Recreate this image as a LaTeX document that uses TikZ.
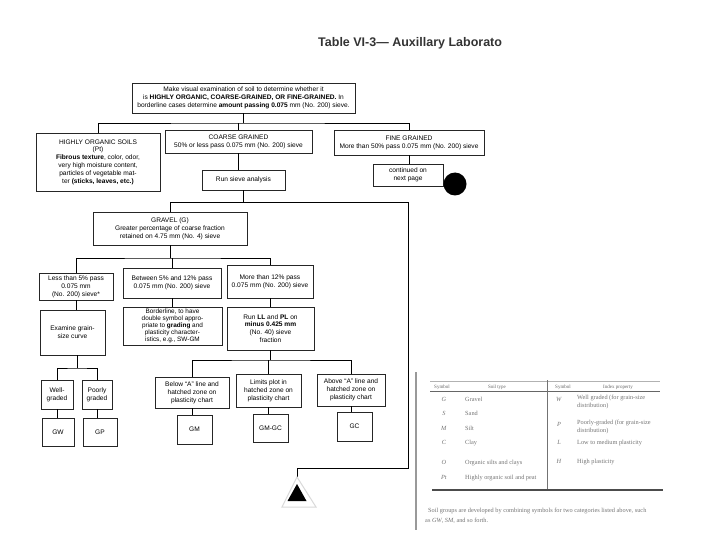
\documentclass[tikz,border=0pt]{standalone}
\usepackage{fontspec}
\setmainfont{Liberation Sans}
\newfontfamily\tabfont{Liberation Serif}
\usetikzlibrary{calc}
\tikzset{
  flowbox/.style={draw=black!85, line width=0.7pt, fill=white, align=center,
    inner sep=1pt, font=\fontsize{6.6}{7.8}\selectfont},
  link/.style={line width=0.9pt},
  tabtext/.style={text=black!55, font=\tabfont\fontsize{6.3}{7.4}\selectfont,
    anchor=base west, inner sep=0pt},
  tabhead/.style={text=black!60, font=\tabfont\fontsize{5}{6}\selectfont,
    anchor=base, inner sep=0pt},
  tabrule/.style={black!60, line width=0.6pt}
}
% box given by its corners in picture units
\newcommand{\flowbox}[7][]{%
  % #1 extra options, #2 name, #3 x-left, #4 y-top, #5 x-right, #6 y-bottom, #7 text
  \node[flowbox, minimum width={(#5-#3)*1pt}, minimum height={(#6-#4)*1pt}, #1]
    (#2) at ({(#3+#5)/2},{(#4+#6)/2}) {#7};
}

\begin{document}
\begin{tikzpicture}[x=1pt, y=-1pt]
  \useasboundingbox (0,0) rectangle (720,540);
  % title, cut at the page edge
  \begin{scope}
    \clip (0,0) rectangle (512,70);
    \node[anchor=base west, inner sep=0pt, text=black!80,
      font=\bfseries\fontsize{12.5}{14}\selectfont] (title) at (318,47)
      {Table VI-3— Auxillary Laborato};
  \end{scope}

  % first level
  \flowbox{visual}{132}{83}{355}{113}{Make visual examination of soil to determine whether it\\
    is \textbf{HIGHLY ORGANIC, COARSE-GRAINED, OR FINE-GRAINED.} In\\
    borderline cases determine \textbf{amount passing 0.075} mm (No. 200) sieve.}
  \flowbox{organic}{36}{133}{160}{191}{HIGHLY ORGANIC SOILS\\ (Pt)\\
    \textbf{Fibrous texture}, color, odor,\\ very high moisture content,\\
    particles of vegetable mat-\\ ter \textbf{(sticks, leaves, etc.)}}
  \flowbox{coarse}{165}{130}{312}{153}{COARSE GRAINED\\ 50\% or less pass 0.075 mm (No. 200) sieve}
  \flowbox{fine}{334}{130}{484}{155}{FINE GRAINED\\ More than 50\% pass 0.075 mm (No. 200) sieve}
  \flowbox{sieve}{202}{170}{285}{190}{Run sieve analysis}
  \flowbox{cont}{373}{164}{443}{186}{continued on\\ next page}
  \node[circle, fill=black, minimum size=23pt, inner sep=0pt] (dot) at (455,184) {};

  % gravel
  \flowbox{gravel}{93}{212}{247}{245}{GRAVEL (G)\\ Greater percentage of coarse fraction\\
    retained on 4.75 mm (No. 4) sieve}
  \flowbox{less}{39}{273}{113}{300}{Less than 5\% pass\\ 0.075 mm\\ (No. 200) sieve*}
  \flowbox{between}{123}{268}{221}{298}{Between 5\% and 12\% pass\\ 0.075 mm (No. 200) sieve}
  \flowbox{more}{227}{265}{313}{298}{More than 12\% pass\\ 0.075 mm (No. 200) sieve}
  \flowbox{examine}{40}{310}{105}{355}{Examine grain-\\ size curve}
  \flowbox[font=\fontsize{6.4}{7.1}\selectfont, inner sep=0.5pt]{border}{123}{307}{222}{345}{Borderline, to have\\ double symbol appro-\\
    priate to \textbf{grading} and\\ plasticity character-\\ istics, e.g., SW-GM}
  \flowbox{runll}{227}{307}{314}{350}{Run \textbf{LL} and \textbf{PL} on\\
    \textbf{minus 0.425 mm}\\ (No. 40) sieve\\ fraction}
  \flowbox{well}{41}{380}{73}{409}{Well-\\ graded}
  \flowbox{poorly}{82}{380}{112}{409}{Poorly\\ graded}
  \flowbox{below}{155}{377}{229}{408}{Below ``A'' line and\\ hatched zone on\\ plasticity chart}
  \flowbox{limits}{236}{374}{301}{407}{Limits plot in\\ hatched zone on\\ plasticity chart}
  \flowbox{above}{317}{374}{385}{406}{Above ``A'' line and\\ hatched zone on\\ plasticity chart}
  \flowbox{gw}{42}{418}{74}{446}{GW}
  \flowbox{gp}{83}{418}{117}{446}{GP}
  \flowbox{gm}{177}{415}{212}{444}{GM}
  \flowbox{gmgc}{253}{414}{288}{442}{GM-GC}
  \flowbox{gc}{337}{412}{372}{441}{GC}

  % bus lines
  \coordinate (busA) at (242,123);
  \coordinate (busB) at (408,202);
  \coordinate (busC) at (172,258);
  \coordinate (busD) at (77,368);
  \coordinate (busE) at (270,360);
  \coordinate (turn) at (408,468);
  \coordinate (tip) at (297,477);

  \draw[link] (visual.south) -- (visual.south |- busA);
  \draw[link] (organic.north) |- (busA) -| (fine.north);
  \draw[link] (coarse.north) -- (coarse.north |- busA);
  \draw[link] (coarse.south) -- (coarse.south |- sieve.north);
  \draw[link] (fine.south) -- (fine.south |- cont.north);
  \draw[link] (sieve.south) -- (sieve.south |- busB);
  \draw[link] (gravel.north) |- (busB) -- (turn) -| (tip);
  \draw[link] (gravel.south) -- (gravel.south |- busC);
  \draw[link] (less.north) |- (busC) -| (more.north);
  \draw[link] (between.north) -- (between.north |- busC);
  \draw[link] (less.south) -- (less.south |- examine.north);
  \draw[link] (between.south) -- (between.south |- border.north);
  \draw[link] (more.south) -- (more.south |- runll.north);
  \draw[link] (busD |- examine.south) -- (busD);
  \draw[link] (well.north) |- (busD) -| (poorly.north);
  \draw[link] (well.south) -- (well.south |- gw.north);
  \draw[link] (poorly.south) -- (poorly.south |- gp.north);
  \draw[link] (runll.south) -- (runll.south |- busE);
  \draw[link] (below.north) |- (busE) -| (above.north);
  \draw[link] (limits.north) -- (limits.north |- busE);
  \draw[link] (below.south) -- (below.south |- gm.north);
  \draw[link] (limits.south) -- (limits.south |- gmgc.north);
  \draw[link] (above.south) -- (above.south |- gc.north);

  % triangle marker
  \filldraw[fill=white, draw=black!15, line width=1pt] (tip) -- ++(-15,30) -- ++(34,0) -- cycle;
  \fill[black] ($(tip)+(0,7)$) -- ++(-9.5,17) -- ++(19,0) -- cycle;

  % page edge
  \draw[black!40, line width=1.2pt] (416,372) -- (416,530);

  % symbol table
  \draw[black!30, line width=0.5pt] (430,381) -- (660,381);
  \draw[tabrule] (430,391) -- (660,391);
  \draw[black!55, line width=1pt] (547,380) -- (547,490);
  \draw[black!70, line width=1.2pt] (432,490) -- (663,490);
  \node[tabhead] (hsym) at (442,388) {Symbol};
  \node[tabhead] (hsoil) at (497,388) {Soil type};
  \node[tabhead] (hsym2) at (563,388) {Symbol};
  \node[tabhead] (hindex) at (618,388) {Index property};
  \foreach \sym/\soil/\yy [count=\i] in {G/Gravel/401, S/Sand/415, M/Silt/430,
      C/Clay/444, O/Organic silts and clays/464, Pt/Highly organic soil and peat/479} {
    \node[tabtext, anchor=base] (sym\i) at (444,\yy) {\textit{\sym}};
    \node[tabtext] (soil\i) at (465,\yy) {\soil};
  }
  \node[tabtext, anchor=base] (wsym) at (559,401) {\textit{W}};
  \node[tabtext, align=left, anchor=north west] (wtxt) at (577,395)
    {Well graded (for grain-size\\ distribution)};
  \node[tabtext, anchor=base] (psym) at (559,426) {\textit{P}};
  \node[tabtext, align=left, anchor=north west] (ptxt) at (577,420)
    {Poorly-graded (for grain-size\\ distribution)};
  \node[tabtext, anchor=base] (lsym) at (559,444) {\textit{L}};
  \node[tabtext] (ltxt) at (577,444) {Low to medium plasticity};
  \node[tabtext, anchor=base] (hsymb) at (559,463) {\textit{H}};
  \node[tabtext] (htxt) at (577,463) {High plasticity};
  \node[tabtext] (note1) at (428,512)
    {Soil groups are developed by combining symbols for two categories listed above, such};
  \node[tabtext] (note2) at (425,522) {as \textit{GW}, \textit{SM}, and so forth.};
\end{tikzpicture}
\end{document}
